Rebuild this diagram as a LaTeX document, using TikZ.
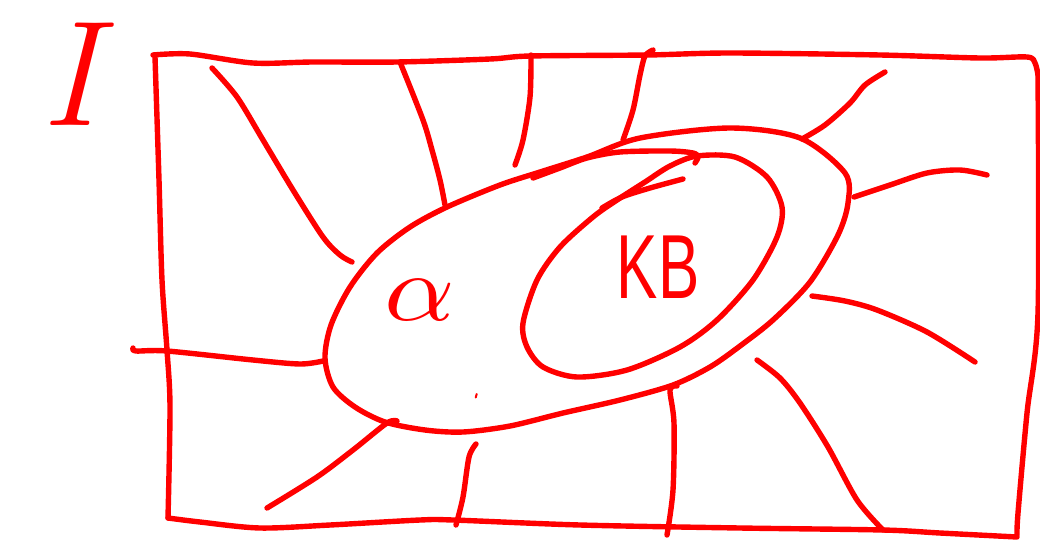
\documentclass[tikz,border=0pt]{standalone}
\usepackage{fontspec}
\usepackage{graphicx}
\newfontfamily\kbfont{Liberation Sans}
\begin{document}
\begin{tikzpicture}[x=1pt,y=-1pt,
  sk/.style={draw=red, line width=5.4pt, line cap=round, line join=round},
  txt/.style={text=red, inner sep=0pt, outer sep=0pt}]
\useasboundingbox (0,0) rectangle (1040,541);
% outer frame
\draw[sk] plot[smooth] coordinates {(153,55)(190,54)(253,63)(313,62)(397,62)(490,59)(530,56)(647,55)(730,53)(880,55)(980,58)(1027,57)(1035,63)(1038,75)};
\draw[sk] plot[smooth] coordinates {(1038,75)(1038,313)(1027,413)(1018,513)(1017,535)};
\draw[sk] plot[smooth] coordinates {(1017,537)(940,533)(883,530)(740,528)(580,525)(453,520)(420,520)(330,525)(260,528)(200,522)(168,518)};
\draw[sk] plot[smooth] coordinates {(168,518)(170,407)(167,350)(162,280)(159,180)(155,57)};
% big ellipse
\draw[sk] plot[smooth cycle] coordinates {(325,358)(333,387)(355,407)(385,422)(425,430)(463,432)(510,426)(563,413)(620,400)(673,385)(710,367)(740,346)(773,320)(810,282)(838,235)(848,203)(845,173)(800,138)(730,128)(640,138)(587,157)(540,172)(500,185)(447,207)(410,227)(377,253)(350,287)(331,325)};
% inner ellipse
\draw[sk] plot[smooth cycle] coordinates {(697,156)(735,157)(767,177)(782,207)(777,237)(753,280)(717,320)(680,347)(627,370)(577,377)(543,367)(527,347)(523,323)(537,280)(560,247)(593,217)(617,200)(645,182)(670,166)};
% extra sketch strokes
\draw[sk] plot[smooth] coordinates {(533,178)(560,168)(587,158)(620,152)(670,151)(693,153)(698,157)(695,163)};
\draw[sk] plot[smooth] coordinates {(683,179)(650,188)(622,197)(602,208)};
% radial lines
\draw[sk] plot[smooth] coordinates {(212,68)(237,97)(263,140)(293,190)(323,237)(340,255)(352,262)};
\draw[sk] plot[smooth] coordinates {(400,62)(423,120)(432,150)(440,180)(445,205)};
\draw[sk] plot[smooth] coordinates {(531,55)(530,97)(523,140)(515,165)};
\draw[sk] plot[smooth] coordinates {(653,50)(645,56)(640,75)(633,110)(623,140)};
\draw[sk] plot[smooth] coordinates {(802,139)(825,125)(850,103)(865,85)(885,72)};
\draw[sk] plot[smooth] coordinates {(854,197)(890,185)(927,173)(960,170)(987,175)};
\draw[sk] plot[smooth] coordinates {(812,296)(845,301)(877,310)(927,332)(975,362)};
\draw[sk] plot[smooth] coordinates {(757,360)(780,378)(800,403)(828,447)(857,500)(883,530)};
\draw[sk] plot[smooth] coordinates {(677,386)(670,390)(674,423)(673,490)(667,535)};
\draw[sk] plot[smooth] coordinates {(476,444)(469,457)(463,497)(456,525)};
\draw[sk] plot[smooth] coordinates {(397,421)(387,423)(353,450)(317,477)(267,508)};
\draw[sk] plot[smooth] coordinates {(133,348)(136,351)(167,351)(253,360)(300,364)(323,361)};
% tiny mark
\draw[draw=red, line width=2pt, line cap=round] (476.7,394) -- (475.7,397.5);
% texts
\node[txt] (setI) at (70,74) {\fontsize{150}{150}\selectfont\itshape I};
\node[txt] (alpha) at (420,300) {\scalebox{11}[9.5]{$\alpha$}};
\node[txt] (kb) at (658,267) {\scalebox{0.68}[1]{\kbfont\fontsize{91}{91}\selectfont KB}};
\end{tikzpicture}
\end{document}
